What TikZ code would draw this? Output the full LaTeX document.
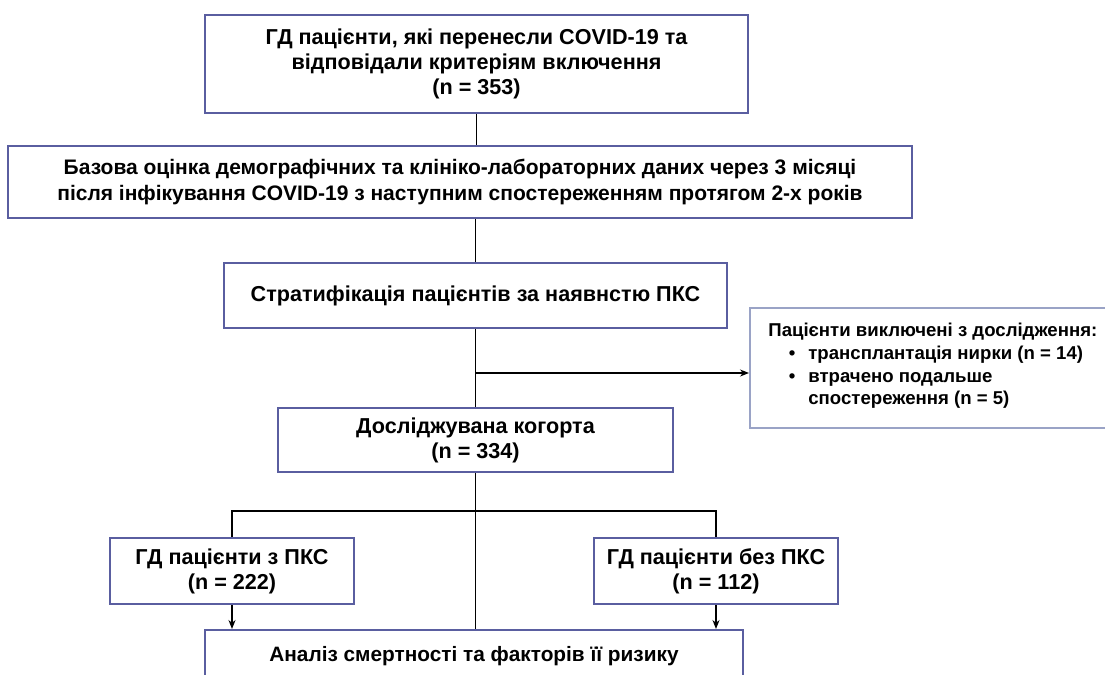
\documentclass[tikz,border=0pt]{standalone}
\usepackage{fontspec}
\setmainfont{Liberation Sans}
\usepackage{tikz}
\usetikzlibrary{arrows.meta,positioning}

\definecolor{boxblue}{HTML}{5A5EA0}
\definecolor{boxgrey}{HTML}{9AA3C6}

\begin{document}
\begin{tikzpicture}[x=0.5pt,y=-0.5pt,>={Stealth[length=4.5pt,width=3.5pt]},
		flow node/.style={rectangle,draw=boxblue,line width=1pt,fill=white,align=center,inner sep=0pt,font=\bfseries\fontsize{10.8}{12.5}\selectfont},
		side node/.style={rectangle,draw=boxgrey,line width=1pt,fill=white,inner sep=0pt},
		link/.style={line width=0.7pt,black}]
		
		\useasboundingbox (0,0) rectangle (1105,675);
		\clip (0,0) rectangle (1105,675);
		
		\node[flow node,minimum width=271.5pt,minimum height=49pt](b1) at (476.5,64){ГД пацієнти, які перенесли COVID-19 та\\відповідали критеріям включення\\(n = 353)};
		\node[flow node,minimum width=452pt,minimum height=36pt,font=\bfseries\fontsize{10.5}{13}\selectfont](b2) at (460,182){Базова оцінка демографічних та клініко-лабораторних даних через 3 місяці\\після інфікування COVID-19 з наступним спостереженням протягом 2-х років};
		\node[flow node,minimum width=251.5pt,minimum height=32.5pt](b3) at (475.5,295.5){Стратифікація пацієнтів за наявнстю ПКС};
		\node[side node,minimum width=180pt,minimum height=60pt](ex) at (930,368){};
		\node[anchor=west,align=left,inner sep=0pt,font=\bfseries\fontsize{9.3}{11.3}\selectfont](exl) at (768,366){Пацієнти виключені з дослідження:\\
			\hspace*{1.1em}\textbullet\hspace{0.7em}трансплантація нирки (n = 14)\\
			\hspace*{1.1em}\textbullet\hspace{0.7em}втрачено подальше\\
			\hspace*{1.1em}\phantom{\textbullet}\hspace{0.7em}спостереження (n = 5)};
		\node[flow node,minimum width=197.5pt,minimum height=32pt](b4) at (475.5,440){Досліджувана когорта\\(n = 334)};
		\node[flow node,minimum width=122pt,minimum height=33pt](b5) at (232,571){ГД пацієнти з ПКС\\(n = 222)};
		\node[flow node,minimum width=122pt,minimum height=33pt](b6) at (716,571){ГД пацієнти без ПКС\\(n = 112)};
		\node[flow node,minimum width=269pt,minimum height=26pt,font=\bfseries\fontsize{10.4}{12.5}\selectfont](b7) at (474,656){Аналіз смертності та факторів її ризику};
		
		\coordinate (split) at (b3.south |- 0,373);
		\coordinate (fork) at (b4.south |- 0,511);
		
		\draw[link] (b1.south) -- (b1.south |- b2.north);
		\draw[link] (b3.north |- b2.south) -- (b3.north);
		\draw[link] (b3.south) -- (b4.north);
		\draw[link,->] (split) -- (split -| ex.west);
		\draw[link] (b4.south) -- (b4.south |- b7.north);
		\draw[link] (b5.north) |- (fork) -| (b6.north);
		\draw[link,->] (b5.south) -- (b5.south |- b7.north);
		\draw[link,->] (b6.south) -- (b6.south |- b7.north);
		
	\end{tikzpicture}
\end{document}
